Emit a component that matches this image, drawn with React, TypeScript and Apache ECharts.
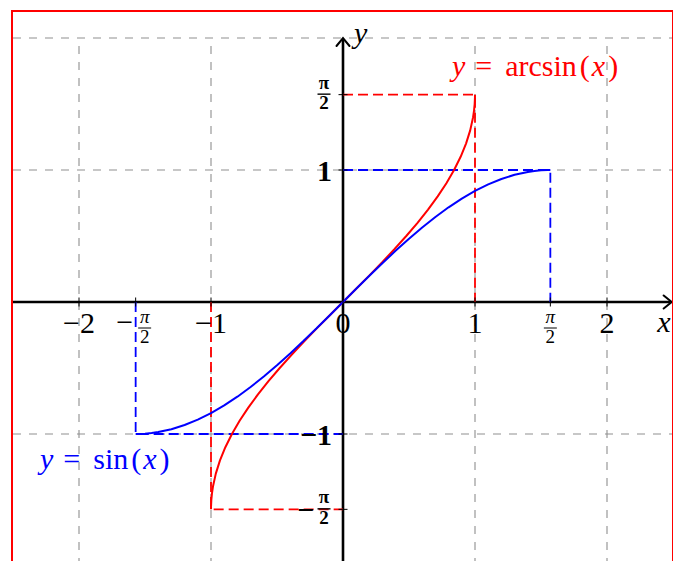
import React, { useEffect, useRef } from 'react';
import * as echarts from 'echarts';

const HALF_PI = Math.PI / 2;

// Sample points (angle, sine) of y = sin(x) on [-π/2, π/2];
// the arcsine curve uses the same pairs with the roles swapped.
const angles = [
  -1.5708, -1.55, -1.5, -1.45, -1.4, -1.3, -1.2, -1.1, -1.0, -0.9, -0.8, -0.7, -0.6,
  -0.5, -0.4, -0.3, -0.2, -0.1, 0, 0.1, 0.2, 0.3, 0.4, 0.5, 0.6, 0.7, 0.8, 0.9, 1.0,
  1.1, 1.2, 1.3, 1.4, 1.45, 1.5, 1.55, 1.5708,
];
const sines = [
  -1, -0.9998, -0.9975, -0.9927, -0.9854, -0.9636, -0.932, -0.8912, -0.8415, -0.7833,
  -0.7174, -0.6442, -0.5646, -0.4794, -0.3894, -0.2955, -0.1987, -0.0998, 0, 0.0998,
  0.1987, 0.2955, 0.3894, 0.4794, 0.5646, 0.6442, 0.7174, 0.7833, 0.8415, 0.8912,
  0.932, 0.9636, 0.9854, 0.9927, 0.9975, 0.9998, 1,
];

const xTickValues = [-2, -HALF_PI, -1, 0, 1, HALF_PI, 2];
const xTickLabels = ['−2', '−π/2', '−1', '0', '1', 'π/2', '2'];
const yTickValues = [HALF_PI, 1, -1, -HALF_PI];
const yTickLabels = ['π/2', '1', '−1', '−π/2'];

const gridXs = [-2, -1, 1, 2];
const gridYs = [2, 1, -1, -2];

const arcsinGuides = [
  [[0, HALF_PI], [1, HALF_PI], [1, 0]],
  [[-1, 0], [-1, -HALF_PI], [0, -HALF_PI]],
];
const sinGuides = [
  [[0, 1], [HALF_PI, 1], [HALF_PI, 0]],
  [[-HALF_PI, 0], [-HALF_PI, -1], [0, -1]],
];

// axis segments: [x0, y0, x1, y1]
const axisSegments = [
  [-2.5, 0, 2.49, 0],
  [0, -2.1, 0, 2],
];
const axisNames = ['x', 'y'];

// canvas and plot window: 132 px per unit, origin at (343, 302)
const W = 673;
const H = 561;
const UNIT = 132;
const OX = 343;
const OY = 302;
const X_MIN = -OX / UNIT;
const X_MAX = (W - OX) / UNIT;
const Y_MIN = -(H - OY) / UNIT;
const Y_MAX = OY / UNIT;

const SERIF = '"Liberation Serif", "Times New Roman", serif';
const RED = '#ff0000';
const BLUE = '#0000ff';
const GRID_GRAY = '#8f8f8f';

type TxtOpts = { size?: number; bold?: boolean; italic?: boolean; align?: string; color?: string };

const txt = (text: string, x: number, y: number, o: TxtOpts = {}) => ({
  type: 'text',
  style: {
    text,
    x,
    y,
    fill: o.color ?? '#000',
    fontFamily: SERIF,
    fontSize: o.size ?? 30,
    fontWeight: o.bold ? 'bold' : 'normal',
    fontStyle: o.italic ? 'italic' : 'normal',
    align: o.align ?? 'center',
    verticalAlign: 'middle',
  },
});

const seg = (x1: number, y1: number, x2: number, y2: number, w = 1) => ({
  type: 'line',
  shape: { x1, y1, x2, y2 },
  style: { stroke: '#000', lineWidth: w },
});

const fraction = (cx: number, barY: number, num: string, den: string, bold: boolean) => [
  txt(num, cx, barY - 12, { size: 19, bold, italic: !bold }),
  seg(cx - 6.5, barY, cx + 6.5, barY, bold ? 1.4 : 1),
  txt(den, cx, barY + 8.5, { size: 19, bold }),
];

const splitLabel = (label: string) => {
  const neg = label.startsWith('−');
  const body = neg ? label.slice(1) : label;
  const frac = body.includes('/') ? body.split('/') : null;
  return { neg, body, frac };
};

const renderXTick = (_params: any, api: any) => {
  const [px, py] = api.coord([api.value(0), api.value(1)]);
  const label = xTickLabels[api.value(2)];
  const { neg, frac } = splitLabel(label);
  const children: any[] = [seg(px, py - 4.5, px, py + 4.5, 1)];
  if (frac) {
    const cx = neg ? px + 9 : px;
    children.push(...fraction(cx, py + 26, frac[0], frac[1], false));
    if (neg) children.push(txt('−', px - 11, py + 19));
  } else {
    children.push(txt(label, px, py + 20));
  }
  return { type: 'group', children };
};

const renderYTick = (_params: any, api: any) => {
  const [px, py] = api.coord([api.value(0), api.value(1)]);
  const label = yTickLabels[api.value(2)];
  const { neg, frac } = splitLabel(label);
  const children: any[] = [seg(px - 4.5, py, px + 4.5, py, 1)];
  if (frac) {
    children.push(...fraction(px - 19, py - 0.5, frac[0], frac[1], true));
    if (neg) children.push(txt('−', px - 29, py, { bold: true, align: 'right' }));
  } else {
    children.push(txt(label, px - 11, py, { bold: true, align: 'right' }));
  }
  return { type: 'group', children };
};

const renderAxis = (_params: any, api: any) => {
  const a = api.coord([api.value(0), api.value(1)]);
  const b = api.coord([api.value(2), api.value(3)]);
  const k = api.value(4);
  const dx = b[0] - a[0];
  const dy = b[1] - a[1];
  const len = Math.hypot(dx, dy);
  const ux = dx / len;
  const uy = dy / len;
  const nx = -uy;
  const ny = ux;
  const L = 8;
  const Wd = 6.5;
  const head = [
    [b[0] - ux * L + nx * Wd, b[1] - uy * L + ny * Wd],
    [b[0], b[1]],
    [b[0] - ux * L - nx * Wd, b[1] - uy * L - ny * Wd],
  ];
  // axis names sit below the x arrow and to the right of the y arrow
  const name =
    k === 0
      ? txt(axisNames[0], b[0] - 1, b[1] + 19, { italic: true, align: 'right' })
      : txt(axisNames[1], b[0] + 11, b[1] - 6, { italic: true, align: 'left' });
  return {
    type: 'group',
    children: [
      {
        type: 'line',
        shape: { x1: a[0], y1: a[1], x2: b[0] - ux * 1.5, y2: b[1] - uy * 1.5 },
        style: { stroke: '#000', lineWidth: 2.6 },
      },
      {
        type: 'polyline',
        shape: { points: head },
        style: { stroke: '#000', fill: 'none', lineWidth: 2, lineJoin: 'miter', lineCap: 'round' },
      },
      name,
    ],
  };
};

const plainLine = (data: number[][], color: string, width: number, dash: number[] | null, z: number) => ({
  type: 'line',
  data,
  symbol: 'none',
  silent: true,
  z,
  lineStyle: { color, width, type: dash ?? 'solid' },
  emphasis: { disabled: true },
});

const LABEL_RICH = {
  i: { fontFamily: SERIF, fontSize: 30, fontStyle: 'italic' },
  op: { fontFamily: SERIF, fontSize: 30, padding: [0, 13, 0, 10] },
  r: { fontFamily: SERIF, fontSize: 30 },
  p: { fontFamily: SERIF, fontSize: 30, padding: [0, 2, 0, 3] },
};

const option: any = {
  animation: false,
  grid: { left: 0, right: 0, top: 0, bottom: 0, containLabel: false },
  xAxis: { type: 'value', min: X_MIN, max: X_MAX, show: false },
  yAxis: { type: 'value', min: Y_MIN, max: Y_MAX, show: false },
  series: [
    ...gridXs.map((x) => plainLine([[x, -2], [x, 2]], GRID_GRAY, 1.1, [8, 8], 1)),
    ...gridYs.map((y) => plainLine([[-2.5, y], [2.5, y]], GRID_GRAY, 1.1, [8, 8], 1)),
    {
      type: 'custom',
      silent: true,
      z: 2,
      data: axisSegments.map((s, i) => [...s, i]),
      encode: { x: [0, 2], y: [1, 3] },
      renderItem: renderAxis,
    },
    ...arcsinGuides.map((g) => plainLine(g, RED, 1.8, [10, 5], 3)),
    ...sinGuides.map((g) => plainLine(g, BLUE, 1.8, [10, 5], 3)),
    plainLine(sines.map((s, i) => [s, angles[i]]), RED, 2, null, 4),
    plainLine(angles.map((a, i) => [a, sines[i]]), BLUE, 2, null, 4),
    {
      type: 'custom',
      silent: true,
      z: 6,
      data: xTickValues.map((v, i) => [v, 0, i]),
      encode: { x: 0, y: 1 },
      renderItem: renderXTick,
    },
    {
      type: 'custom',
      silent: true,
      z: 6,
      data: yTickValues.map((v, i) => [0, v, i]),
      encode: { x: 0, y: 1 },
      renderItem: renderYTick,
    },
  ],
  graphic: [
    {
      type: 'text',
      x: 452,
      y: 65,
      silent: true,
      style: {
        text: '{i|y}{op|=}{r|arcsin}{p|(}{i|x}{p|)}',
        rich: LABEL_RICH,
        fill: RED,
        verticalAlign: 'middle',
      },
    },
    {
      type: 'text',
      x: 40,
      y: 458,
      silent: true,
      style: {
        text: '{i|y}{op|=}{r|sin}{p|(}{i|x}{p|)}',
        rich: LABEL_RICH,
        fill: BLUE,
        verticalAlign: 'middle',
      },
    },
    {
      type: 'rect',
      silent: true,
      z: 100,
      shape: { x: 12, y: 11, width: 661, height: 600 },
      style: { fill: 'none', stroke: RED, lineWidth: 2 },
    },
  ],
};

export default function App() {
  const ref = useRef<HTMLDivElement>(null);
  useEffect(() => {
    const chart = echarts.init(ref.current as HTMLDivElement, null, { renderer: 'svg' });
    chart.setOption(option);
    return () => chart.dispose();
  }, []);
  return (
    <div
      ref={ref}
      style={{ position: 'fixed', left: 0, top: 0, width: W, height: H, background: '#fff' }}
    />
  );
}
